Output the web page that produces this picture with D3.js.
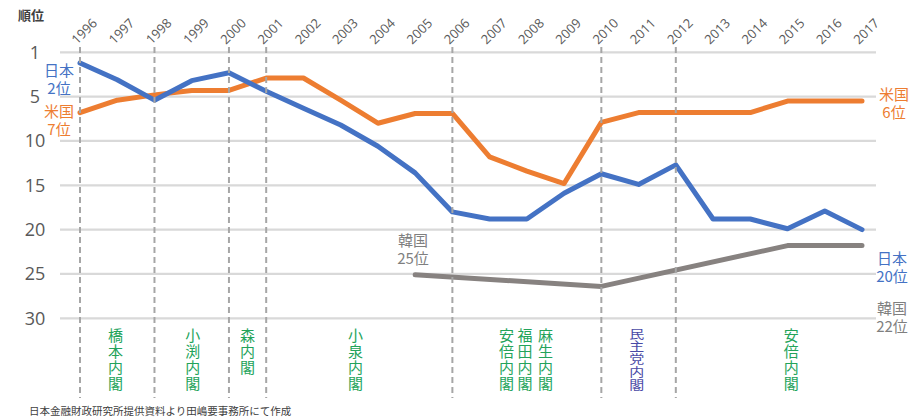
<!DOCTYPE html>
<html>
<head>
<meta charset="utf-8">
<script src="https://cdn.jsdelivr.net/npm/d3@7"></script>
<style>
  body { margin: 0; background: #fff; }
  text { font-family: "Noto Sans CJK JP", "Noto Sans", sans-serif; }
</style>
</head>
<body>
<div id="chart"></div>
<script>

// years on the top axis
var years = d3.range(1996, 2018);

// rank positions (axis shows 1 at the top line)
var japan = [1.2, 3.1, 5.4, 3.2, 2.3, 4.4, 6.3, 8.2, 10.6, 13.6, 18.0, 18.8,
             18.8, 15.9, 13.7, 14.9, 12.7, 18.8, 18.8, 19.9, 17.9, 20.0];
var usa = [6.8, 5.4, 4.8, 4.3, 4.3, 2.9, 2.9, 5.4, 8.0, 6.9, 6.9, 11.8,
           13.4, 14.8, 7.9, 6.8, 6.8, 6.8, 6.8, 5.5, 5.5, 5.5];
var korea = [null, null, null, null, null, null, null, null, null, 25.1, null, null,
             null, null, 26.4, null, null, null, null, 21.8, 21.8, 21.8];

var yTicks = [0, 5, 10, 15, 20, 25, 30];
var yTickLabels = ["1", "5", "10", "15", "20", "25", "30"];

// cabinet changes (dashed lines) and labels
var cabinetYears = [1996, 1998, 2000, 2001, 2006, 2010, 2012];
var cabinetNames = ["橋本内閣", "小渕内閣", "森内閣", "小泉内閣", "安倍内閣", "福田内閣", "麻生内閣", "民主党内閣", "安倍内閣"];
var cabinetLabelYear = [1996.95, 1999.03, 2000.5, 2003.4, 2007.45, 2007.95, 2008.5, 2010.95, 2015.1];

var width = 909, height = 420;

var svg = d3.select("#chart")
  .append("svg")
    .attr("width", width)
    .attr("height", height);

var x = d3.scaleLinear()
  .domain([1996, 2017])
  .range([80, 862]);

var y = d3.scaleLinear()
  .domain([0, 30])
  .range([52.3, 318.3]);

// gridlines
svg.append("g")
  .selectAll("line")
  .data(yTicks)
  .enter().append("line")
    .attr("x1", 60)
    .attr("x2", 876)
    .attr("y1", function(d) { return y(d); })
    .attr("y2", function(d) { return y(d); })
    .attr("stroke", "#d9d9d9")
    .attr("stroke-width", 2.2);

// left tick labels
svg.append("g")
  .selectAll("text")
  .data(yTicks)
  .enter().append("text")
    .attr("x", 35)
    .attr("y", function(d) { return y(d); })
    .attr("dy", "0.36em")
    .attr("text-anchor", "middle")
    .style("font-family", "'Open Sans', sans-serif")
    .style("font-size", "18px")
    .attr("fill", "#595959")
    .text(function(d, i) { return yTickLabels[i]; });

// year labels, rotated
svg.append("g")
  .selectAll("text")
  .data(years)
  .enter().append("text")
    .attr("transform", function(d) { return "translate(" + (x(d) - 3) + ",45) rotate(-45)"; })
    .style("font-family", "'Open Sans', sans-serif")
    .style("font-size", "13px")
    .attr("fill", "#595959")
    .text(function(d) { return d; });

svg.append("text")
  .attr("x", 18)
  .attr("y", 20)
  .style("font-size", "13px")
  .style("font-weight", "bold")
  .attr("fill", "#404040")
  .text("順位");

// series lines
var line = d3.line()
  .x(function(d) { return x(d.year); })
  .y(function(d) { return y(d.value); });

function toPoints(values) {
  return years.map(function(yr, i) { return {year: yr, value: values[i]}; })
    .filter(function(d) { return d.value != null; });
}

var series = [
  {name: "korea", values: korea, color: "#878280"},
  {name: "usa", values: usa, color: "#ed7d31"},
  {name: "japan", values: japan, color: "#4472c4"}
];

svg.append("g")
  .selectAll("path")
  .data(series)
  .enter().append("path")
    .attr("d", function(d) { return line(toPoints(d.values)); })
    .attr("fill", "none")
    .attr("stroke", function(d) { return d.color; })
    .attr("stroke-width", 5)
    .attr("stroke-linecap", "round")
    .attr("stroke-linejoin", "round");

// dashed cabinet lines
svg.append("g")
  .selectAll("line")
  .data(cabinetYears)
  .enter().append("line")
    .attr("x1", function(d) { return x(d); })
    .attr("x2", function(d) { return x(d); })
    .attr("y1", 47)
    .attr("y2", 398)
    .attr("stroke", "#a6a6a6")
    .attr("stroke-width", 2)
    .attr("stroke-dasharray", "6,4");

// cabinet labels, vertical text (the 5-character one squeezed to fit)
svg.append("g")
  .selectAll("text")
  .data(cabinetNames)
  .enter().append("text")
    .attr("transform", function(d, i) {
      var sy = d.length > 4 ? 0.8 : 1;
      return "translate(" + x(cabinetLabelYear[i]) + ",328) scale(1," + sy + ")";
    })
    .style("writing-mode", "vertical-rl")
    .style("text-orientation", "upright")
    .style("font-size", "15px")
    .style("letter-spacing", "1px")
    .attr("fill", function(d) { return d === "民主党内閣" ? "#4a4aa6" : "#23a35a"; })
    .text(function(d) { return d; });

// series labels
function label(lines, cx, cy, color) {
  var t = svg.append("text")
    .attr("text-anchor", "middle")
    .style("font-size", "15px")
    .attr("fill", color);
  lines.forEach(function(s, i) {
    t.append("tspan")
      .attr("x", cx)
      .attr("y", cy + i * 18)
      .attr("dy", "0.36em")
      .text(s);
  });
}

label(["日本", "2位"], 59, 71, "#4472c4");
label(["米国", "7位"], 59, 112, "#ed7d31");
label(["韓国", "25位"], 413, 241, "#7f7f7f");
label(["米国", "6位"], 894, 95, "#ed7d31");
label(["日本", "20位"], 892, 259, "#4472c4");
label(["韓国", "22位"], 892, 309, "#7f7f7f");

svg.append("text")
  .attr("x", 29)
  .attr("y", 415)
  .style("font-size", "10.5px")
  .attr("fill", "#404040")
  .text("日本金融財政研究所提供資料より田嶋要事務所にて作成");

</script>
</body>
</html>
